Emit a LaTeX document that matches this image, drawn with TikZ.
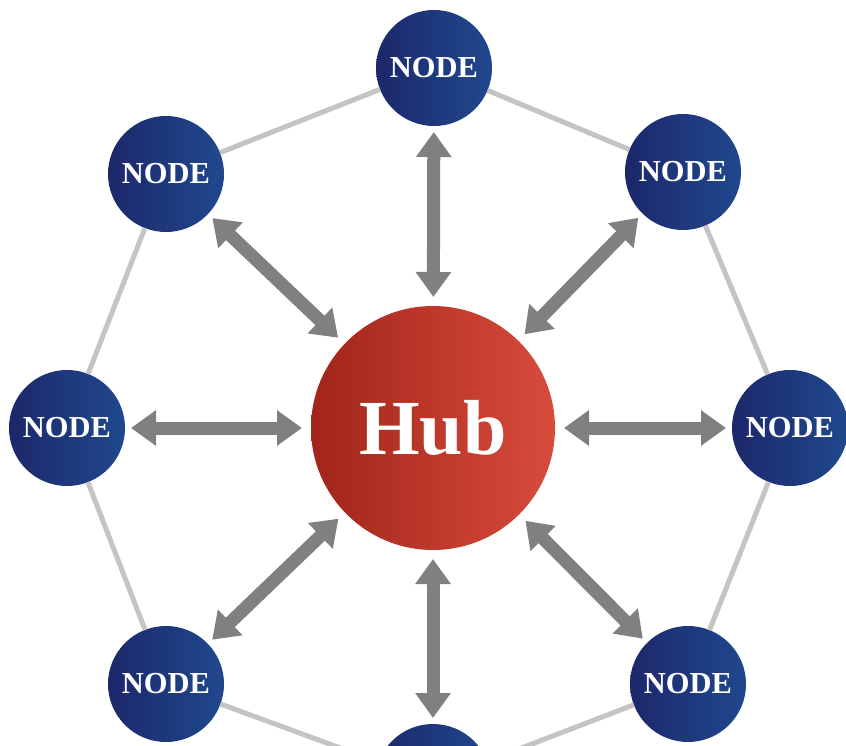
\documentclass[tikz,border=0pt]{standalone}
\usepackage{fontspec}
\setmainfont{Liberation Serif}
\usetikzlibrary{arrows.meta}
\definecolor{NodeL}{RGB}{28,40,106}
\definecolor{NodeR}{RGB}{32,72,142}
\definecolor{HubL}{RGB}{162,36,26}
\definecolor{HubR}{RGB}{216,76,60}
\definecolor{ArrGray}{RGB}{128,128,128}
\definecolor{RingGray}{RGB}{196,196,196}
\tikzset{
  spoke/.style={circle, minimum size=116pt, inner sep=0pt, outer sep=0pt,
    left color=NodeL, right color=NodeR, text=white,
    font=\fontsize{30.5}{32}\selectfont\bfseries},
  hubnode/.style={circle, minimum size=244pt, inner sep=0pt, outer sep=0pt,
    left color=HubL, right color=HubR, text=white,
    font=\fontsize{78}{80}\selectfont\bfseries},
  ring/.style={draw=RingGray, line width=5pt},
  twoway/.style={draw=ArrGray, line width=13pt,
    {Triangle[width=34pt,length=25pt]}-{Triangle[width=34pt,length=25pt]},
    shorten <=6pt, shorten >=9pt}
}
\begin{document}
\begin{tikzpicture}[x=1pt,y=-1pt]
\useasboundingbox (0,0) rectangle (846,746);
\clip (0,0) rectangle (846,746);
\fill[white] (0,0) rectangle (846,746);
\node[hubnode] (hub) at (433,428) {Hub};
\node[spoke] (n1) at (434,68) {NODE};
\node[spoke] (n2) at (683,172) {NODE};
\node[spoke] (n3) at (790,428) {NODE};
\node[spoke] (n4) at (688,684) {NODE};
\node[spoke] (n5) at (433,782) {};
\node[spoke] (n6) at (166,684) {NODE};
\node[spoke] (n7) at (67,428) {NODE};
\node[spoke] (n8) at (166,174) {NODE};
\draw[ring] (n1) -- (n2);
\draw[ring] (n2) -- (n3);
\draw[ring] (n3) -- (n4);
\draw[ring] (n4) -- (n5);
\draw[ring] (n5) -- (n6);
\draw[ring] (n6) -- (n7);
\draw[ring] (n7) -- (n8);
\draw[ring] (n8) -- (n1);
\foreach \n in {n1,n2,n3,n4,n5,n6,n7,n8}
  \draw[twoway] (\n) -- (hub);
\end{tikzpicture}
\end{document}
